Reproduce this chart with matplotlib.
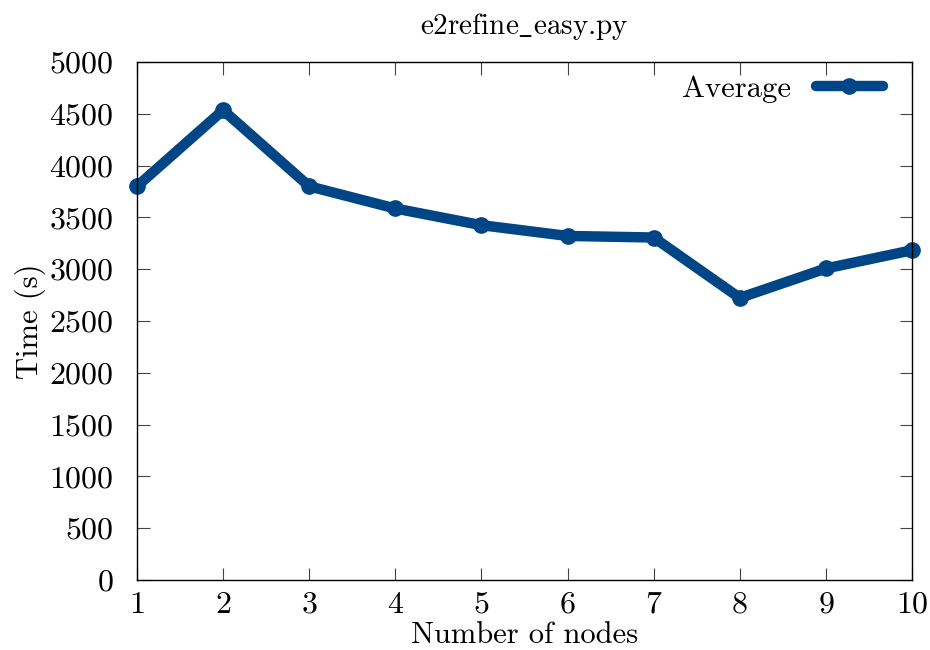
import matplotlib
matplotlib.use('Agg')
import matplotlib.pyplot as plt

plt.rcParams['font.family'] = 'serif'
plt.rcParams['font.serif'] = ['cmr10', 'DejaVu Serif']
plt.rcParams['mathtext.fontset'] = 'cm'
plt.rcParams['axes.formatter.use_mathtext'] = True

nodes = [1, 2, 3, 4, 5, 6, 7, 8, 9, 10]
avg_time = [3800, 4535, 3800, 3586, 3425, 3321, 3306, 2723, 3007, 3183]
yticks = [0, 500, 1000, 1500, 2000, 2500, 3000, 3500, 4000, 4500, 5000]

color = '#004586'

fig = plt.figure(figsize=(9.3, 6.5), dpi=100)
ax = fig.add_axes([0.1473, 0.1077, 0.8333, 0.7969])

ax.plot(nodes, avg_time, color=color, linewidth=7.5, marker='o', markersize=11,
        solid_capstyle='round', solid_joinstyle='round', label='Average', clip_on=False)

ax.set_xlim(1, 10)
ax.set_ylim(0, 5000)
ax.set_xticks(nodes)
ax.set_yticks(yticks)
ax.tick_params(direction='in', length=9, width=0.8, top=True, right=True,
               labelsize=23, color='#444444')
ax.tick_params(axis='x', pad=8)
ax.tick_params(axis='y', pad=17)
for s in ax.spines.values():
    s.set_linewidth(1.0)

ax.set_title(r'e2refine$\_$easy.py', fontsize=21, pad=20)
ax.set_xlabel('Number of nodes', fontsize=22, labelpad=2)
ax.set_ylabel('Time (s)', fontsize=22, labelpad=2)

leg = ax.legend(loc='upper right', frameon=False, fontsize=22, markerfirst=False,
                handlelength=2.2, borderaxespad=0.4, handletextpad=0.8,
                bbox_to_anchor=(0.994, 1.022))

fig.savefig('out.png', dpi=100)
